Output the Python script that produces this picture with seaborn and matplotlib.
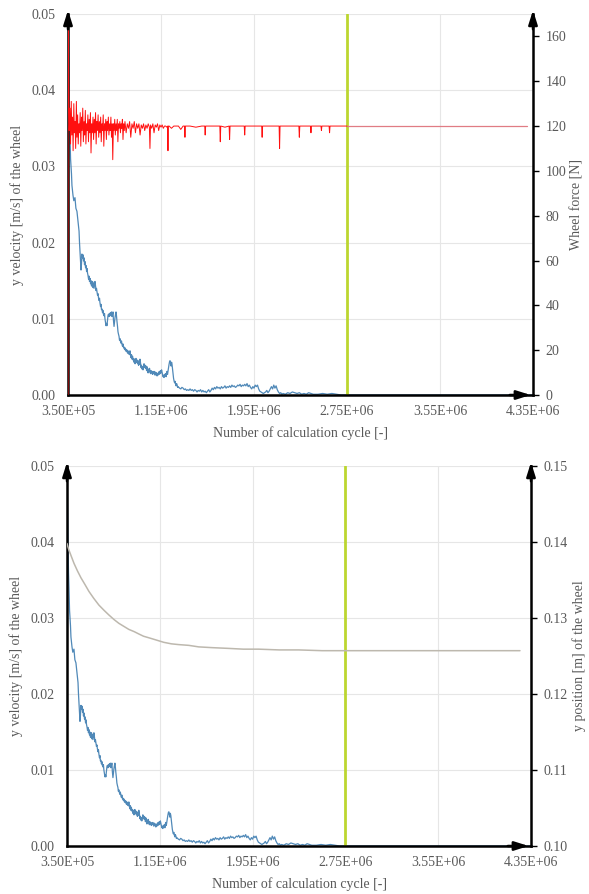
import numpy as np
import pandas as pd
import matplotlib
matplotlib.use("Agg")
import matplotlib.pyplot as plt
from matplotlib.ticker import FuncFormatter
import seaborn as sns

# ---------------- data (cycles in thousands) ----------------
vel_kcycle = [350, 355, 359, 363, 367, 372, 376, 380, 384, 389, 393, 400, 410, 418, 427, 436, 445, 449, 453, 458,
              462, 466, 470, 475, 479, 484, 488, 492, 497, 501, 505, 510, 514, 518, 522, 527, 531, 535, 540, 544,
              548, 552, 556, 561, 565, 569, 574, 578, 582, 587, 591, 595, 599, 604, 608, 612, 617, 621, 625, 630,
              634, 638, 642, 647, 651, 655, 660, 664, 668, 672, 677, 681, 685, 690, 694, 698, 703, 707, 711, 715,
              720, 724, 728, 733, 737, 741, 746, 750, 754, 758, 763, 767, 771, 776, 780, 784, 789, 793, 797, 802,
              806, 810, 815, 819, 823, 828, 832, 836, 840, 845, 849, 853, 858, 862, 866, 871, 875, 879, 883, 888,
              892, 896, 901, 905, 909, 914, 918, 922, 927, 931, 935, 940, 944, 948, 953, 957, 961, 965, 969, 974,
              978, 982, 987, 991, 995, 1000, 1004, 1008, 1013, 1017, 1021, 1026, 1030, 1034, 1039, 1043, 1047, 1051,
              1056, 1060, 1064, 1069, 1073, 1077, 1081, 1086, 1090, 1094, 1099, 1103, 1107, 1112, 1116, 1120, 1124,
              1129, 1133, 1137, 1142, 1146, 1150, 1155, 1159, 1163, 1168, 1172, 1176, 1181, 1185, 1189, 1194, 1198,
              1202, 1206, 1211, 1215, 1219, 1224, 1228, 1232, 1237, 1241, 1245, 1250, 1254, 1258, 1263, 1267, 1271,
              1276, 1280, 1284, 1289, 1293, 1297, 1310, 1320, 1330, 1340, 1350, 1360, 1370, 1380, 1390, 1400, 1410,
              1420, 1430, 1440, 1450, 1460, 1470, 1480, 1490, 1500, 1510, 1520, 1530, 1540, 1550, 1560, 1570, 1580,
              1590, 1600, 1610, 1620, 1630, 1640, 1650, 1660, 1670, 1680, 1690, 1700, 1710, 1720, 1730, 1740, 1750,
              1760, 1770, 1780, 1790, 1800, 1810, 1820, 1830, 1840, 1850, 1860, 1870, 1880, 1890, 1900, 1910, 1920,
              1930, 1940, 1950, 1960, 1970, 1980, 1990, 2000, 2010, 2020, 2030, 2040, 2050, 2060, 2070, 2080, 2090,
              2100, 2110, 2120, 2130, 2140, 2150, 2160, 2170, 2180, 2190, 2200, 2220, 2240, 2260, 2280, 2300, 2320,
              2340, 2360, 2380, 2400, 2420, 2440, 2460, 2500, 2540, 2580, 2620, 2660, 2700, 2800, 4350]
velocity = [0.0500, 0.0440, 0.0395, 0.0360, 0.0340, 0.0310, 0.0300, 0.0290, 0.0275, 0.0268, 0.0262, 0.0255, 0.0259,
            0.0245, 0.0241, 0.0228, 0.0215, 0.0200, 0.0189, 0.0175, 0.0164, 0.0172, 0.0185, 0.0180, 0.0184, 0.0176,
            0.0180, 0.0171, 0.0175, 0.0167, 0.0170, 0.0162, 0.0166, 0.0160, 0.0157, 0.0152, 0.0156, 0.0149, 0.0153,
            0.0146, 0.0150, 0.0143, 0.0144, 0.0149, 0.0141, 0.0147, 0.0140, 0.0145, 0.0149, 0.0143, 0.0137, 0.0140,
            0.0136, 0.0131, 0.0133, 0.0128, 0.0124, 0.0127, 0.0121, 0.0116, 0.0119, 0.0112, 0.0113, 0.0108, 0.0111,
            0.0106, 0.0104, 0.0107, 0.0100, 0.0096, 0.0091, 0.0094, 0.0091, 0.0098, 0.0104, 0.0106, 0.0103, 0.0107,
            0.0104, 0.0108, 0.0105, 0.0109, 0.0103, 0.0106, 0.0109, 0.0098, 0.0090, 0.0096, 0.0101, 0.0105, 0.0109,
            0.0104, 0.0097, 0.0090, 0.0083, 0.0080, 0.0077, 0.0072, 0.0074, 0.0070, 0.0068, 0.0071, 0.0066, 0.0064,
            0.0067, 0.0062, 0.0063, 0.0060, 0.0062, 0.0058, 0.0060, 0.0057, 0.0059, 0.0055, 0.0058, 0.0054, 0.0057,
            0.0053, 0.0058, 0.0052, 0.0049, 0.0053, 0.0047, 0.0051, 0.0046, 0.0048, 0.0043, 0.0047, 0.0041, 0.0045,
            0.0048, 0.0043, 0.0046, 0.0041, 0.0045, 0.0039, 0.0043, 0.0040, 0.0047, 0.0042, 0.0036, 0.0039, 0.0034,
            0.0037, 0.0033, 0.0038, 0.0041, 0.0036, 0.0039, 0.0035, 0.0038, 0.0032, 0.0037, 0.0033, 0.0029, 0.0034,
            0.0030, 0.0035, 0.0031, 0.0028, 0.0032, 0.0029, 0.0031, 0.0027, 0.0030, 0.0028, 0.0031, 0.0029, 0.0026,
            0.0030, 0.0027, 0.0029, 0.0025, 0.0028, 0.0026, 0.0030, 0.0027, 0.0031, 0.0028, 0.0032, 0.0029, 0.0033,
            0.0030, 0.0027, 0.0024, 0.0026, 0.0023, 0.0027, 0.0025, 0.0028, 0.0024, 0.0029, 0.0031, 0.0027, 0.0032,
            0.0036, 0.0040, 0.0044, 0.0045, 0.0042, 0.0038, 0.0043, 0.0040, 0.0033, 0.0027, 0.0022, 0.0018, 0.0016,
            0.0018, 0.0014, 0.0012, 0.0015, 0.0013, 0.0010, 0.0011, 0.0009, 0.0008, 0.0010, 0.0009, 0.0007, 0.0008,
            0.0006, 0.0007, 0.0006, 0.0008, 0.0006, 0.0007, 0.0005, 0.0007, 0.0006, 0.0004, 0.0006, 0.0005, 0.0007,
            0.0004, 0.0006, 0.0004, 0.0005, 0.0003, 0.0005, 0.0007, 0.0004, 0.0006, 0.0009, 0.0007, 0.0010, 0.0008,
            0.0011, 0.0009, 0.0010, 0.0008, 0.0011, 0.0009, 0.0010, 0.0012, 0.0009, 0.0011, 0.0010, 0.0012, 0.0010,
            0.0013, 0.0011, 0.0012, 0.0010, 0.0011, 0.0013, 0.0012, 0.0014, 0.0011, 0.0013, 0.0012, 0.0014, 0.0012,
            0.0015, 0.0011, 0.0013, 0.0010, 0.0008, 0.0011, 0.0009, 0.0013, 0.0011, 0.0013, 0.0008, 0.0005, 0.0004,
            0.0003, 0.0002, 0.0003, 0.0004, 0.0006, 0.0003, 0.0005, 0.0008, 0.0011, 0.0008, 0.0013, 0.0009, 0.0012,
            0.0007, 0.0004, 0.0002, 0.0003, 0.0001, 0.0002, 0.0001, 0.0003, 0.0002, 0.0004, 0.0003, 0.0002, 0.0003,
            0.0001, 0.0002, 0.0001, 0.0003, 0.0002, 0.0001, 0.0001, 0.0002, 0.0001, 0.0002, 0.0001, 0.0000, 0.0000,
            0.0000]

force_kcycle = [350, 351, 356, 361, 367, 372, 378, 383, 389, 394, 400, 405, 411, 416, 422, 427, 433, 438, 444, 449,
                455, 460, 466, 471, 477, 482, 488, 493, 499, 504, 510, 515, 521, 526, 532, 537, 543, 548, 554, 559,
                565, 570, 576, 581, 587, 592, 598, 603, 609, 614, 620, 625, 631, 636, 642, 647, 653, 658, 664, 669,
                675, 680, 686, 691, 697, 702, 708, 713, 719, 724, 730, 735, 741, 746, 752, 757, 763, 768, 774, 779,
                785, 790, 796, 801, 807, 812, 818, 823, 829, 834, 840, 850, 860, 870, 880, 890, 900, 910, 920, 930,
                940, 950, 960, 970, 980, 990, 1000, 1010, 1020, 1030, 1040, 1050, 1055, 1060, 1070, 1080, 1090, 1100,
                1110, 1120, 1130, 1140, 1150, 1160, 1170, 1180, 1190, 1200, 1206, 1210, 1214, 1220, 1240, 1260,
                1280, 1300, 1320, 1340, 1352, 1356, 1360, 1400, 1450, 1500, 1526, 1530, 1534, 1600, 1650, 1656,
                1660, 1664, 1700, 1736, 1740, 1744, 1800, 1866, 1870, 1874, 1950, 2016, 2020, 2024, 2100, 2166,
                2170, 2174, 2250, 2336, 2340, 2344, 2400, 2436, 2440, 2444, 2500, 2526, 2530, 2534, 2596, 2600,
                2604, 2750, 4300]
force = [0, 172, 140, 118, 128, 112, 131, 116, 124, 109, 130, 117, 122, 110, 131, 115, 125, 112, 121, 117,
         126, 111, 124, 118, 128, 113, 122, 116, 127, 112, 121, 118, 125, 113, 123, 117, 126, 108, 121, 117,
         124, 114, 123, 117, 126, 112, 122, 118, 125, 115, 122, 117, 124, 113, 121, 118, 125, 111, 121, 118,
         123, 114, 122, 118, 124, 116, 121, 118, 124, 115, 121, 105, 121, 118, 123, 116, 121, 118, 123, 113,
         121, 119, 122, 117, 121, 119, 123, 114, 121, 118, 122, 117, 121, 119, 122, 115, 121, 119, 122, 117,
         121, 119, 121, 116, 120.5, 119, 121, 118, 120.5, 119, 121, 119.5, 110, 120.5, 119, 121, 117, 120.5,
         119.5, 121, 118, 120.5, 119.5, 120.5, 119, 120, 120, 119.5, 120, 109, 120, 120, 119, 120,
         120, 120, 118.5, 120, 120, 115, 120, 120, 119.5, 120, 120, 116, 120, 120, 120, 120,
         113, 120, 119.5, 120, 114, 120, 120, 120, 116, 120, 120, 120, 115, 120, 120, 120,
         110, 120, 120, 120, 115, 120, 120, 120, 117, 120, 120, 120, 118, 120, 120, 117,
         120, 120, 120]

pos_kcycle = [350, 365, 380, 410, 440, 470, 505, 539, 580, 625, 670, 711, 755, 797, 840, 883, 930, 969, 1010, 1055,
              1120, 1184, 1250, 1313, 1400, 1485, 1600, 1744, 1870, 2002, 2180, 2346, 2550, 2776, 3200, 3700, 4255]
position = [0.1398, 0.1390, 0.1384, 0.1372, 0.1362, 0.1353, 0.1344, 0.1335, 0.1326, 0.1317, 0.1310, 0.1304,
            0.1298, 0.1293, 0.1289, 0.1285, 0.1282, 0.1279, 0.1276, 0.1274, 0.1271, 0.1268, 0.1266, 0.1265,
            0.1264, 0.1262, 0.1261, 0.1260, 0.1259, 0.1259, 0.1258, 0.1258, 0.1257, 0.1257, 0.1257, 0.1257, 0.1257]

marker_cycle = 2.75e6
x_ticks = [0.35e6, 1.15e6, 1.95e6, 2.75e6, 3.55e6, 4.35e6]
vel_ticks = [0.00, 0.01, 0.02, 0.03, 0.04, 0.05]
force_ticks = [0, 20, 40, 60, 80, 100, 120, 140, 160]
pos_ticks = [0.10, 0.11, 0.12, 0.13, 0.14, 0.15]

df_vel = pd.DataFrame({"cycle": np.array(vel_kcycle) * 1000.0, "velocity": velocity})
df_force = pd.DataFrame({"cycle": np.array(force_kcycle) * 1000.0, "force": force})
df_pos = pd.DataFrame({"cycle": np.array(pos_kcycle) * 1000.0, "position": position})

# ---------------- style ----------------
sns.set_style("white")
plt.rcParams["font.family"] = ["Liberation Serif", "DejaVu Serif"]
FS = 10
TXT = "#595959"
BLUE = "#5089b8"
RED = "#ff1010"
RED_TAIL = "#e07c84"
GREY = "#bdb8ae"
GREEN = "#bcd630"
GRID = "#e6e6e6"

fig = plt.figure(figsize=(5.89, 8.94), dpi=100)
ax_top = fig.add_axes([68 / 589, 1 - 395 / 894, 465 / 589, 381 / 894])
ax_bot = fig.add_axes([67 / 589, 1 - 846 / 894, 464 / 589, 380 / 894])


def style_axes(ax, ax2, right_label, right_ticks, right_fmt, right_lim):
    ax.set_xlim(0.35e6, 4.35e6)
    ax.set_ylim(0, 0.05)
    ax.set_xticks(x_ticks)
    ax.set_yticks(vel_ticks)
    ax.xaxis.set_major_formatter(FuncFormatter(lambda v, p: f"{v:.2E}"))
    ax.yaxis.set_major_formatter(FuncFormatter(lambda v, p: f"{v:.2f}"))
    ax.grid(True, color=GRID, lw=0.8)
    ax.set_axisbelow(True)
    ax.tick_params(axis="x", length=0, pad=7, labelcolor=TXT, labelsize=FS)
    ax.tick_params(axis="y", length=0, pad=9, labelcolor=TXT, labelsize=FS)
    ax.set_xlabel("Number of calculation cycle [-]", color=TXT, fontsize=FS, labelpad=6)
    ax.set_ylabel("y velocity [m/s] of the wheel", color=TXT, fontsize=FS, labelpad=5)
    for s in ["top", "right"]:
        ax.spines[s].set_visible(False)
    for s in ["left", "bottom"]:
        ax.spines[s].set_color("black")
        ax.spines[s].set_linewidth(1.8)
        ax.spines[s].set_zorder(5)

    ax2.set_ylim(*right_lim)
    ax2.set_yticks(right_ticks)
    ax2.yaxis.set_major_formatter(FuncFormatter(right_fmt))
    ax2.tick_params(axis="y", length=4, width=1, color="black", pad=5, labelcolor=TXT, labelsize=FS)
    ax2.set_ylabel(right_label, color=TXT, fontsize=FS, labelpad=3)
    ax2.grid(False)
    for s in ["top", "left", "bottom"]:
        ax2.spines[s].set_visible(False)
    ax2.spines["right"].set_color("black")
    ax2.spines["right"].set_linewidth(1.8)

    head = dict(arrowstyle="-|>,head_length=0.7,head_width=0.22", color="black", lw=1.8,
                shrinkA=0, shrinkB=0, mutation_scale=12)
    ax2.annotate("", xy=(0, 1.01), xytext=(0, 0.96), xycoords="axes fraction", arrowprops=head, zorder=10)
    ax2.annotate("", xy=(1, 1.01), xytext=(1, 0.96), xycoords="axes fraction", arrowprops=head, zorder=10)
    ax2.annotate("", xy=(0.995, 0), xytext=(0.95, 0), xycoords="axes fraction", arrowprops=head, zorder=10)


# ---------------- top panel ----------------
ax_top2 = ax_top.twinx()
sns.lineplot(data=df_vel, x="cycle", y="velocity", ax=ax_top, color=BLUE, lw=0.9,
             estimator=None, sort=False, zorder=3)
ax_top.axvline(marker_cycle, color=GREEN, lw=2, zorder=4)
main = df_force[df_force["cycle"] <= marker_cycle]
tail = df_force[df_force["cycle"] >= marker_cycle]
sns.lineplot(data=tail, x="cycle", y="force", ax=ax_top2, color=RED_TAIL, lw=0.9,
             estimator=None, sort=False)
sns.lineplot(data=main, x="cycle", y="force", ax=ax_top2, color=RED, lw=0.7,
             estimator=None, sort=False)
style_axes(ax_top, ax_top2, "Wheel force [N]", force_ticks, lambda v, p: f"{v:.0f}", (0, 170))

# ---------------- bottom panel ----------------
ax_bot2 = ax_bot.twinx()
sns.lineplot(data=df_vel, x="cycle", y="velocity", ax=ax_bot, color=BLUE, lw=0.9,
             estimator=None, sort=False, zorder=3)
ax_bot.axvline(marker_cycle, color=GREEN, lw=2, zorder=4)
sns.lineplot(data=df_pos, x="cycle", y="position", ax=ax_bot2, color=GREY, lw=1.1,
             estimator=None, sort=False)
style_axes(ax_bot, ax_bot2, "y position [m] of the wheel", pos_ticks, lambda v, p: f"{v:.2f}", (0.10, 0.15))

fig.savefig("out.png", dpi=100)
